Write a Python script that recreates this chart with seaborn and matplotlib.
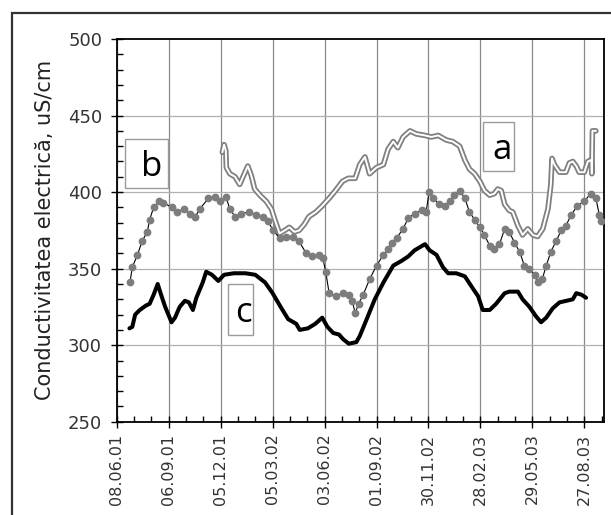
import numpy as np
import pandas as pd
import matplotlib
matplotlib.use("Agg")
import matplotlib.pyplot as plt
import matplotlib.dates as mdates
from matplotlib.patches import Rectangle
import seaborn as sns

# ---- data (days after 08.06.2001, conductivity uS/cm) ----
start_date = "2001-06-08"

a_days = [183, 186, 189, 190, 196, 205, 213, 220, 227, 233, 239, 248, 259, 268, 273, 282, 291, 299,
          308, 316, 325, 333, 345, 356, 368, 379, 391, 401, 413, 421, 430, 438, 450, 462, 470, 479,
          487, 496, 508, 519, 534, 545, 557, 571, 582, 594, 603, 611, 620, 629, 637, 646, 654, 660,
          666, 672, 680, 686, 695, 703, 712, 721, 729, 738, 747, 752, 754, 758, 767, 778, 784, 790,
          796, 801, 810, 816, 822, 823, 824, 830]
a_vals = [426, 431, 427, 416, 412, 410, 405, 411, 417, 411, 402, 398, 394, 389, 383, 373, 375, 377,
          374, 375, 379, 384, 387, 391, 396, 401, 407, 409, 409, 418, 423, 412, 416, 418, 428, 433,
          429, 436, 440, 438, 437, 436, 437, 434, 433, 430, 421, 415, 412, 407, 401, 398, 399, 402,
          401, 392, 388, 387, 378, 372, 376, 372, 371, 376, 389, 405, 422, 418, 413, 413, 419, 420,
          417, 413, 413, 420, 421, 412, 440, 440]

b_days = [23, 27, 36, 44, 53, 57, 64, 73, 81, 96, 104, 116, 127, 136, 144, 159, 170, 179, 189, 196,
          205, 216, 230, 242, 253, 262, 271, 282, 294, 305, 316, 328, 339, 351, 357, 362, 368, 379,
          392, 402, 408, 413, 419, 427, 438, 450, 462, 470, 476, 485, 496, 505, 516, 528, 536, 541,
          548, 559, 568, 577, 585, 594, 603, 611, 620, 629, 637, 646, 654, 663, 672, 680, 689, 698,
          706, 715, 724, 729, 737, 744, 752, 761, 770, 778, 787, 798, 810, 821, 830, 836, 839]
b_vals = [341, 351, 359, 368, 374, 382, 390, 394, 393, 390, 387, 389, 386, 384, 389, 396, 397, 394,
          397, 389, 384, 386, 387, 385, 384, 381, 375, 370, 371, 371, 368, 360, 358, 359, 357, 348,
          334, 332, 334, 333, 329, 321, 327, 333, 343, 352, 359, 363, 367, 370, 376, 383, 386, 388,
          387, 400, 396, 392, 391, 394, 398, 401, 396, 387, 382, 377, 372, 365, 363, 366, 376, 374,
          367, 361, 352, 350, 346, 341, 343, 352, 361, 368, 375, 378, 385, 391, 394, 399, 396, 385,
          381]

c_days = [22, 27, 32, 40, 51, 57, 64, 71, 76, 84, 95, 101, 109, 118, 125, 132, 138, 149, 155, 165,
          176, 186, 203, 223, 240, 257, 270, 284, 297, 311, 317, 331, 344, 356, 365, 375, 385, 392,
          402, 415, 421, 433, 447, 462, 479, 493, 505, 516, 534, 542, 554, 565, 574, 588, 603, 617,
          626, 634, 646, 657, 672, 680, 695, 703, 715, 726, 735, 744, 755, 767, 779, 790, 796, 805,
          813]
c_vals = [311, 312, 320, 323, 326, 327, 333, 340, 334, 325, 315, 318, 325, 329, 328, 323, 331, 341,
          348, 346, 342, 346, 347, 347, 346, 341, 334, 325, 317, 314, 310, 311, 314, 318, 312, 308,
          307, 304, 301, 302, 306, 317, 330, 341, 352, 355, 358, 362, 366, 362, 359, 351, 347, 347,
          345, 337, 332, 323, 323, 327, 334, 335, 335, 330, 325, 319, 315, 318, 324, 328, 329, 330,
          334, 333, 331]

# label boxes: (letter, day_start, day_end, val_low, val_high)
box_letters = ["b", "a", "c"]
box_day0 = [14, 634, 193]
box_day1 = [89, 688, 236]
box_v0 = [403, 414, 307]
box_v1 = [435, 446, 340]

y_label = "Conductivitatea electrică, uS/cm"

# ---- build ----
t0 = pd.Timestamp(start_date)
def to_dates(days):
    return t0 + pd.to_timedelta(np.asarray(days, dtype=float), unit="D")

df_a = pd.DataFrame({"date": to_dates(a_days), "val": a_vals})
df_b = pd.DataFrame({"date": to_dates(b_days), "val": b_vals})
df_c = pd.DataFrame({"date": to_dates(c_days), "val": c_vals})

sns.set_theme(style="white")
plt.rcParams["font.family"] = ["DejaVu Sans"]

fig = plt.figure(figsize=(6.11, 5.15), dpi=100)
fig.patch.set_facecolor("white")
ax = fig.add_axes([0.191, 0.181, 0.7975, 0.7433])

# grid
major_x = pd.date_range(start_date, periods=10, freq="90D")
minor_x = pd.date_range(start_date, periods=30, freq="30D")
ax.set_xticks(major_x)
ax.set_xticks(minor_x, minor=True)
ax.xaxis.set_major_formatter(mdates.DateFormatter("%d.%m.%y"))
ax.set_yticks(np.arange(250, 501, 50))
ax.set_yticks(np.arange(250, 501, 10), minor=True)
ax.grid(False)
for d in major_x:
    ax.axvline(d, color="#8a8a8a", lw=0.9, zorder=0)
for v in np.arange(300, 500, 50):
    ax.axhline(v, color="#b0b0b0", lw=0.9, zorder=0)

# series a : double line
sns.lineplot(data=df_a, x="date", y="val", ax=ax, color="#808080", linewidth=4.0,
             sort=False, estimator=None, zorder=3)
sns.lineplot(data=df_a, x="date", y="val", ax=ax, color="white", linewidth=1.4,
             sort=False, estimator=None, zorder=4)
# series b : dotted
sns.lineplot(data=df_b, x="date", y="val", ax=ax, color="black", linewidth=0.8,
             sort=False, estimator=None, zorder=5)
sns.lineplot(data=df_b, x="date", y="val", ax=ax, color="#7d7d7d", linewidth=0,
             marker="o", markersize=5.6, markeredgewidth=0, sort=False, estimator=None, zorder=6)
# series c : black thick
sns.lineplot(data=df_c, x="date", y="val", ax=ax, color="black", linewidth=2.9,
             sort=False, estimator=None, zorder=7)

ax.set_xlim(t0, t0 + pd.Timedelta(days=844))
ax.set_ylim(250, 500)
ax.set_xlabel("")
ax.set_ylabel(y_label, fontsize=15, color="#222222", labelpad=9)

for s in ax.spines.values():
    s.set_color("black")
    s.set_linewidth(1.3)
    s.set_visible(True)

ax.tick_params(axis="both", which="major", direction="inout", length=9, width=1.0,
               color="black", colors="#333333")
ax.tick_params(axis="both", which="minor", direction="in", length=4.5, width=1.0, color="black")
ax.tick_params(axis="y", which="major", labelsize=13, pad=6)
ax.tick_params(axis="x", which="major", labelsize=11.5, pad=4, labelrotation=90)
ax.tick_params(axis="both", which="both", bottom=True, left=True, top=False, right=False)

# label boxes
for letter, d0, d1, v0, v1 in zip(box_letters, box_day0, box_day1, box_v0, box_v1):
    x0 = mdates.date2num(t0 + pd.Timedelta(days=d0))
    x1 = mdates.date2num(t0 + pd.Timedelta(days=d1))
    ax.add_patch(Rectangle((x0, v0), x1 - x0, v1 - v0, fill=False, edgecolor="#9a9a9a",
                           lw=1.0, zorder=8))
    ax.text(x0 + (x1 - x0) * 0.62, v0 + (v1 - v0) * 0.42, letter, fontsize=25,
            family="Open Sans", ha="center", va="center", color="black", zorder=9)

# outer frame
fig.patches.append(Rectangle((0.0196, -0.05), 1.05, 1.0248, transform=fig.transFigure,
                             fill=False, edgecolor="#333333", lw=1.6, clip_on=False))

fig.savefig("out.png", dpi=100, facecolor="white")
